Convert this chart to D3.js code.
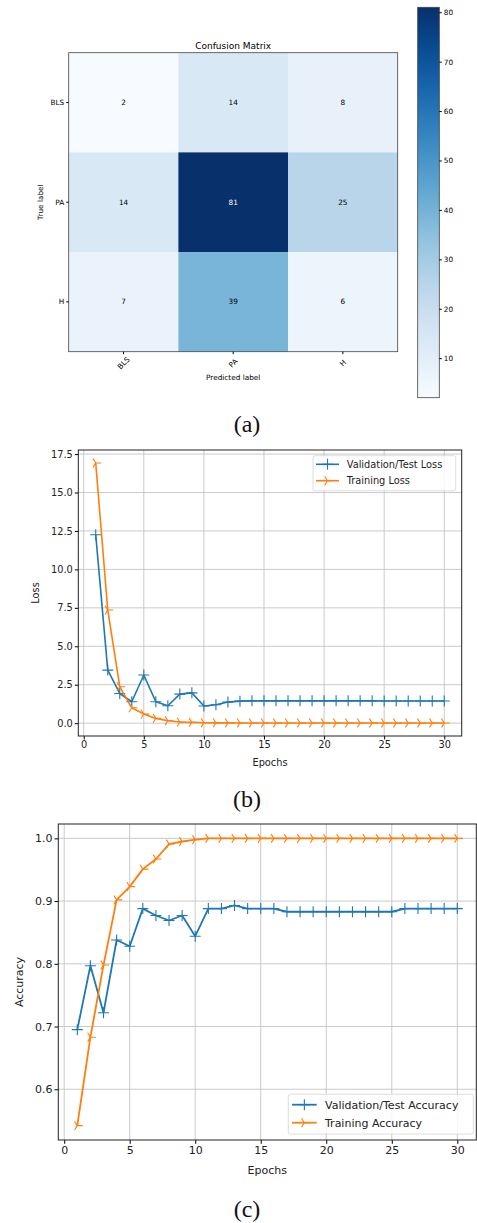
<!DOCTYPE html>
<html>
<head>
<meta charset="utf-8">
<script src="https://cdn.jsdelivr.net/npm/d3@7"></script>
<style>
  body { margin: 0; background: #fff; }
  svg { display: block; font-family: "DejaVu Sans", sans-serif; }
</style>
</head>
<body>
<svg width="477" height="1223"></svg>
<script>
// confusion matrix
const classes = ["BLS", "PA", "H"];
const cmValues = [
  [2, 14, 8],
  [14, 81, 25],
  [7, 39, 6]
];
const cbTicks = [10, 20, 30, 40, 50, 60, 70, 80];

// training curves
const epochs = [1, 2, 3, 4, 5, 6, 7, 8, 9, 10, 11, 12, 13, 14, 15, 16, 17, 18, 19, 20, 21, 22, 23, 24, 25, 26, 27, 28, 29, 30];
const valLoss = [12.25, 3.45, 1.93, 1.39, 3.13, 1.39, 1.13, 1.89, 1.97, 1.12, 1.2, 1.37, 1.43, 1.45, 1.45, 1.45, 1.45, 1.45, 1.45, 1.45, 1.45, 1.45, 1.45, 1.45, 1.44, 1.44, 1.44, 1.44, 1.44, 1.44];
const trainLoss = [16.92, 7.36, 2.37, 1.0, 0.59, 0.31, 0.16, 0.07, 0.05, 0.03, 0.02, 0.02, 0.01, 0.01, 0.01, 0.01, 0.01, 0.01, 0.01, 0.01, 0.01, 0.01, 0.01, 0.01, 0.01, 0.01, 0.01, 0.01, 0.01, 0.01];
const valAcc = [0.695, 0.797, 0.722, 0.838, 0.828, 0.888, 0.877, 0.869, 0.877, 0.844, 0.888, 0.888, 0.893, 0.888, 0.888, 0.888, 0.883, 0.883, 0.883, 0.883, 0.883, 0.883, 0.883, 0.883, 0.883, 0.888, 0.888, 0.888, 0.888, 0.888];
const trainAcc = [0.542, 0.683, 0.798, 0.902, 0.923, 0.951, 0.967, 0.991, 0.995, 0.998, 1.0, 1.0, 1.0, 1.0, 1.0, 1.0, 1.0, 1.0, 1.0, 1.0, 1.0, 1.0, 1.0, 1.0, 1.0, 1.0, 1.0, 1.0, 1.0, 1.0];
const lossTicks = [0, 2.5, 5, 7.5, 10, 12.5, 15, 17.5];
const accTicks = [0.6, 0.7, 0.8, 0.9, 1.0];
const epochTicks = [0, 5, 10, 15, 20, 25, 30];

const blue = "#1f77b4", orange = "#ff7f0e";
const svg = d3.select("svg");

// ---------- (a) confusion matrix ----------
const cm = { left: 68.7, right: 397.7, top: 52.7, bottom: 351.7 };
const cx = d3.scaleBand().domain(classes).range([cm.left, cm.right]);
const cy = d3.scaleBand().domain(classes).range([cm.top, cm.bottom]);
const color = d3.scaleSequential(d3.interpolateBlues).domain([2, 81]);

const cells = [];
classes.forEach((r, i) => classes.forEach((c, j) => cells.push({ r, c, v: cmValues[i][j] })));

const ga = svg.append("g");
ga.selectAll("rect.cell").data(cells).enter().append("rect")
  .attr("x", d => cx(d.c)).attr("y", d => cy(d.r))
  .attr("width", cx.bandwidth()).attr("height", cy.bandwidth())
  .attr("fill", d => color(d.v));
ga.selectAll("text.val").data(cells).enter().append("text")
  .attr("x", d => cx(d.c) + cx.bandwidth() / 2)
  .attr("y", d => cy(d.r) + cy.bandwidth() / 2)
  .attr("text-anchor", "middle").attr("dy", "0.35em")
  .attr("font-size", 7.3)
  .attr("fill", d => d.v > 81 / 2 ? "#fff" : "#000")
  .text(d => d.v);
ga.append("rect").attr("x", cm.left).attr("y", cm.top)
  .attr("width", cm.right - cm.left).attr("height", cm.bottom - cm.top)
  .attr("fill", "none").attr("stroke", "#444").attr("stroke-width", 0.8);

ga.append("g").attr("transform", `translate(${cm.left},0)`)
  .call(d3.axisLeft(cy).tickSize(2.5).tickPadding(2))
  .call(g => g.select(".domain").remove())
  .selectAll("text").attr("font-size", 7.3).attr("font-family", "DejaVu Sans");
ga.append("g").attr("transform", `translate(0,${cm.bottom})`)
  .call(d3.axisBottom(cx).tickSize(2.5).tickFormat(""))
  .call(g => g.select(".domain").remove());
ga.selectAll("text.xl").data(classes).enter().append("text")
  .attr("transform", d => `translate(${cx(d) + cx.bandwidth() / 2},363) rotate(-45)`)
  .attr("text-anchor", "middle").attr("dy", "0.35em")
  .attr("font-size", 7.3).text(d => d);

ga.append("text").attr("x", (cm.left + cm.right) / 2).attr("y", 48.5)
  .attr("text-anchor", "middle").attr("font-size", 9).text("Confusion Matrix");
ga.append("text").attr("x", (cm.left + cm.right) / 2).attr("y", 379.5)
  .attr("text-anchor", "middle").attr("font-size", 7.3).text("Predicted label");
ga.append("text").attr("transform", `translate(42.5,${(cm.top + cm.bottom) / 2}) rotate(-90)`)
  .attr("text-anchor", "middle").attr("font-size", 7.3).text("True label");

// colorbar
const cb = { left: 417.7, right: 439.3, top: 7.3, bottom: 397.7 };
const cbY = d3.scaleLinear().domain([2, 81]).range([cb.bottom, cb.top]);
const grad = svg.append("defs").append("linearGradient").attr("id", "cbgrad")
  .attr("x1", 0).attr("y1", 1).attr("x2", 0).attr("y2", 0);
d3.range(0, 1.0001, 0.05).forEach(t => {
  grad.append("stop").attr("offset", t).attr("stop-color", d3.interpolateBlues(t));
});
ga.append("rect").attr("x", cb.left).attr("y", cb.top)
  .attr("width", cb.right - cb.left).attr("height", cb.bottom - cb.top)
  .attr("fill", "url(#cbgrad)").attr("stroke", "#444").attr("stroke-width", 0.8);
ga.append("g").attr("transform", `translate(${cb.right},0)`)
  .call(d3.axisRight(cbY).tickValues(cbTicks).tickSize(2.5).tickPadding(2))
  .call(g => g.select(".domain").remove())
  .selectAll("text").attr("font-size", 7.3).attr("font-family", "DejaVu Sans");

// ---------- line panels ----------
function plusPath(r) { return `M${-r},0H${r}M0,${-r}V${r}`; }
function triPath(r) { return `M0,0H${r}M0,0L${-0.5 * r},${-0.8 * r}M0,0L${-0.5 * r},${0.8 * r}`; }

function padDomain(ext) {
  const p = (ext[1] - ext[0]) * 0.05;
  return [ext[0] - p, ext[1] + p];
}

function linePanel(cfg) {
  const g = svg.append("g");
  const x = d3.scaleLinear().domain(padDomain(d3.extent(epochs))).range([cfg.left, cfg.right]);
  const allY = cfg.series.flatMap(s => s.values);
  const y = d3.scaleLinear().domain(padDomain(d3.extent(allY))).range([cfg.bottom, cfg.top]);
  const fs = cfg.fontSize;

  // grid
  g.selectAll("line.gx").data(epochTicks).enter().append("line")
    .attr("x1", d => x(d)).attr("x2", d => x(d)).attr("y1", cfg.top).attr("y2", cfg.bottom)
    .attr("stroke", "#c4c4c4").attr("stroke-width", 0.9);
  g.selectAll("line.gy").data(cfg.yTicks).enter().append("line")
    .attr("y1", d => y(d)).attr("y2", d => y(d)).attr("x1", cfg.left).attr("x2", cfg.right)
    .attr("stroke", "#c4c4c4").attr("stroke-width", 0.9);

  // axes
  g.append("g").attr("transform", `translate(0,${cfg.bottom})`)
    .call(d3.axisBottom(x).tickValues(epochTicks).tickSize(cfg.tick).tickPadding(2))
    .call(a => a.select(".domain").remove())
    .selectAll("text").attr("font-size", fs).attr("font-family", "DejaVu Sans").attr("fill", "#222");
  g.append("g").attr("transform", `translate(${cfg.left},0)`)
    .call(d3.axisLeft(y).tickValues(cfg.yTicks).tickFormat(d3.format(".1f")).tickSize(cfg.tick).tickPadding(2))
    .call(a => a.select(".domain").remove())
    .selectAll("text").attr("font-size", fs).attr("font-family", "DejaVu Sans").attr("fill", "#222");

  // series
  const line = d3.line().x((d, i) => x(epochs[i])).y(d => y(d));
  cfg.series.forEach(s => {
    g.append("path").datum(s.values).attr("d", line)
      .attr("fill", "none").attr("stroke", s.color).attr("stroke-width", cfg.lw)
      .attr("stroke-linejoin", "round");
    g.selectAll(null).data(s.values).enter().append("path")
      .attr("transform", (d, i) => `translate(${x(epochs[i])},${y(d)})`)
      .attr("d", s.marker(cfg.ms / 2))
      .attr("fill", "none").attr("stroke", s.color).attr("stroke-width", 1.1);
  });

  // frame
  g.append("rect").attr("x", cfg.left).attr("y", cfg.top)
    .attr("width", cfg.right - cfg.left).attr("height", cfg.bottom - cfg.top)
    .attr("fill", "none").attr("stroke", "#222").attr("stroke-width", 1);

  // labels
  g.append("text").attr("x", (cfg.left + cfg.right) / 2).attr("y", cfg.xLabelY)
    .attr("text-anchor", "middle").attr("dy", "0.35em").attr("font-size", fs).attr("fill", "#222").text("Epochs");
  g.append("text").attr("transform", `translate(${cfg.yLabelX},${(cfg.top + cfg.bottom) / 2}) rotate(-90)`)
    .attr("text-anchor", "middle").attr("dy", "0.35em").attr("font-size", fs).attr("fill", "#222").text(cfg.yLabel);

  // legend
  const L = cfg.legend;
  g.append("rect").attr("x", L.x0).attr("y", L.y0).attr("width", L.x1 - L.x0).attr("height", L.y1 - L.y0)
    .attr("rx", 2).attr("fill", "#fff").attr("fill-opacity", 0.8).attr("stroke", "#d6d6d6").attr("stroke-width", 0.8);
  cfg.series.forEach((s, i) => {
    const yy = L.rows[i];
    g.append("line").attr("x1", L.s0).attr("x2", L.s1).attr("y1", yy).attr("y2", yy)
      .attr("stroke", s.color).attr("stroke-width", cfg.lw);
    g.append("path").attr("transform", `translate(${(L.s0 + L.s1) / 2},${yy})`)
      .attr("d", s.marker(cfg.ms / 2)).attr("fill", "none").attr("stroke", s.color).attr("stroke-width", 1.1);
    g.append("text").attr("x", L.tx).attr("y", yy).attr("dy", "0.35em")
      .attr("font-size", fs).attr("fill", "#222").text(s.name);
  });
}

linePanel({
  left: 78.3, right: 461.7, top: 450, bottom: 736,
  fontSize: 9.8, tick: 3.5, lw: 1.6, ms: 11,
  yTicks: lossTicks, yLabel: "Loss", yLabelX: 36, xLabelY: 762.5,
  series: [
    { name: "Validation/Test Loss", values: valLoss, color: blue, marker: plusPath },
    { name: "Training Loss", values: trainLoss, color: orange, marker: triPath }
  ],
  legend: { x0: 313, x1: 455.7, y0: 455.7, y1: 490.7, rows: [464.3, 480.7], s0: 316, s1: 339, tx: 346.7 }
});

linePanel({
  left: 58.3, right: 476.3, top: 824, bottom: 1140,
  fontSize: 11, tick: 3.8, lw: 1.8, ms: 11,
  yTicks: accTicks, yLabel: "Accuracy", yLabelX: 19, xLabelY: 1170.5,
  series: [
    { name: "Validation/Test Accuracy", values: valAcc, color: blue, marker: plusPath },
    { name: "Training Accuracy", values: trainAcc, color: orange, marker: triPath }
  ],
  legend: { x0: 288.3, x1: 473.3, y0: 1094.3, y1: 1134, rows: [1104.7, 1122.7], s0: 292, s1: 316.7, tx: 325 }
});

// captions
[["(a)", 432], ["(b)", 807], ["(c)", 1217]].forEach(([t, yy]) => {
  svg.append("text").attr("x", 247).attr("y", yy).attr("text-anchor", "middle")
    .attr("font-family", "Liberation Serif, serif").attr("font-size", 24).attr("fill", "#111").text(t);
});
</script>
</body>
</html>
